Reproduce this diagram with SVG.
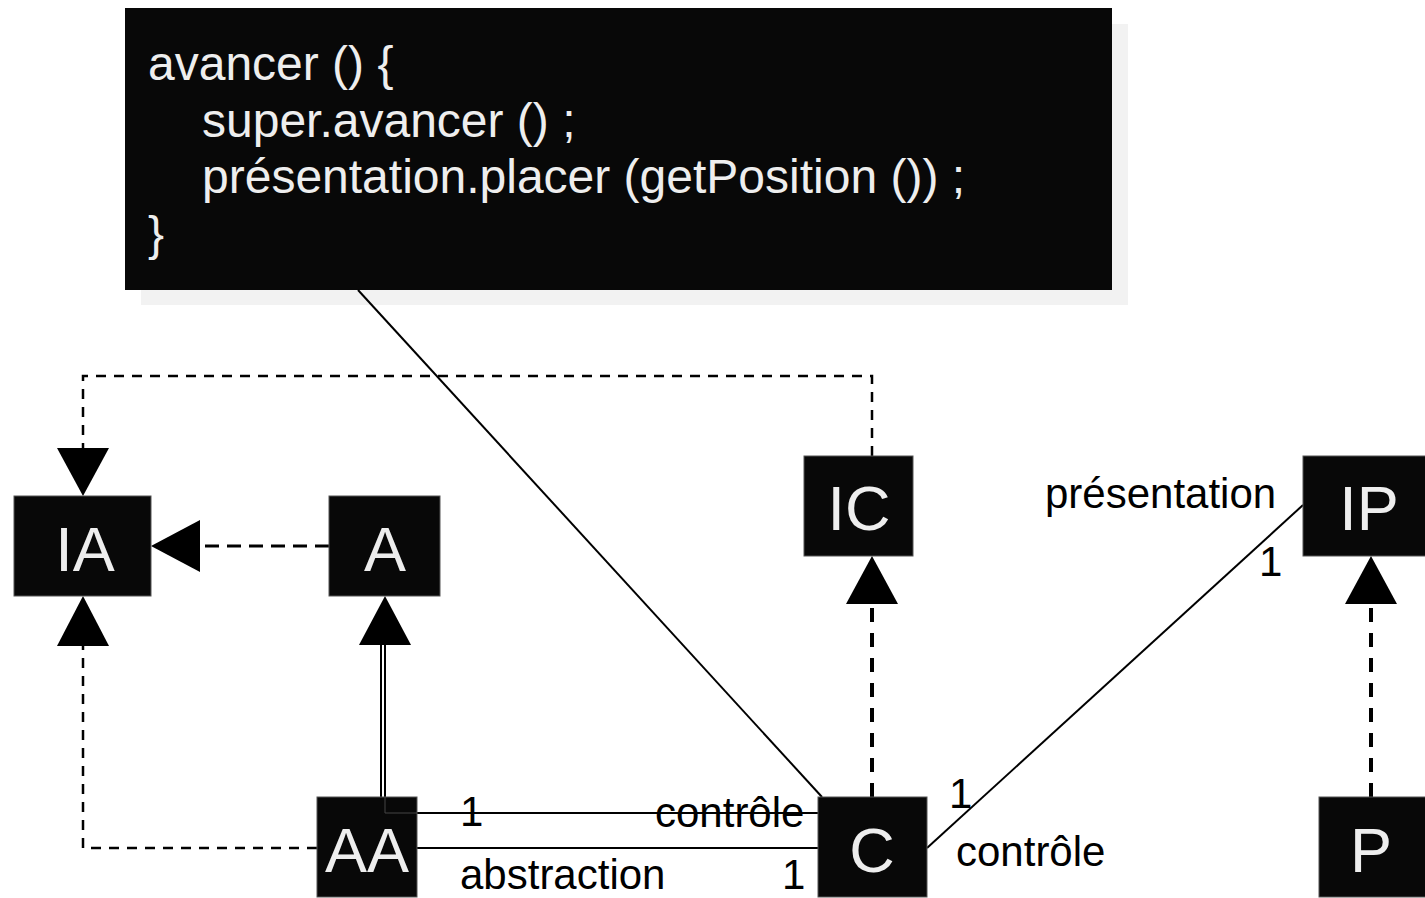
<svg xmlns="http://www.w3.org/2000/svg" width="1425" height="898" viewBox="0 0 1425 898">
<defs>
<style>
.node{fill:#080808;stroke:#555;stroke-width:1}
.nlabel{font-family:"Liberation Sans",Arial,sans-serif;font-size:63px;fill:#eeeeee;text-anchor:middle}
.lbl{font-family:"Liberation Sans",Arial,sans-serif;font-size:42px;fill:#000}
.code{font-family:"Liberation Sans",Arial,sans-serif;font-size:48px;fill:#eeeeee}
.solid{fill:none;stroke:#000;stroke-width:2}
.dthin{fill:none;stroke:#000;stroke-width:2.5;stroke-dasharray:10 8}
.dmid{fill:none;stroke:#000;stroke-width:3;stroke-dasharray:14 8}
.dthick{fill:none;stroke:#000;stroke-width:4;stroke-dasharray:14 11}
.head{fill:#000}
</style>
</defs>
<g id="note">
<rect x="141" y="24" width="987" height="281" fill="#f2f2f2"/>
<rect x="125" y="8" width="987" height="282" fill="#080808"/>
<text class="code"><tspan x="148" y="80">avancer () {</tspan><tspan x="202" y="137">super.avancer () ;</tspan><tspan x="202" y="193">présentation.placer (getPosition ()) ;</tspan><tspan x="148" y="250">}</tspan></text>
</g>
<g id="connectors">
<path class="dthin" d="M872,456 V376 H83 V448"/>
<polygon class="head" points="83,496 57,448 109,448"/>
<path class="dmid" d="M329,546 H200"/>
<polygon class="head" points="151,546 200,520 200,572"/>
<path class="dthin" d="M317,848 H83 V646"/>
<polygon class="head" points="83,596 57,646 109,646"/>
<path class="solid" d="M381,797 V645"/>
<path class="solid" d="M385,645 V813 H818"/>
<polygon class="head" points="385,596 359,645 411,645"/>
<path class="solid" stroke-width="2.5" d="M417,848 H818"/>
<path class="solid" stroke-width="1.6" d="M358,290 L822,797"/>
<path class="dthick" d="M872,797 V604"/>
<polygon class="head" points="872,556 846,604 898,604"/>
<path class="solid" d="M927,848 L1303,505"/>
<path class="dthick" d="M1371,797 V604"/>
<polygon class="head" points="1371,556 1345,604 1397,604"/>
</g>
<g id="IA"><rect class="node" x="14" y="496" width="137" height="100"/><text class="nlabel" x="85" y="571">IA</text></g>
<g id="A"><rect class="node" x="329" y="496" width="111" height="100"/><text class="nlabel" x="385" y="571">A</text></g>
<g id="IC"><rect class="node" x="804" y="456" width="109" height="100"/><text class="nlabel" x="859" y="530">IC</text></g>
<g id="IP"><rect class="node" x="1303" y="456" width="125" height="100"/><text class="nlabel" x="1369" y="530">IP</text></g>
<g id="AA"><rect class="node" x="317" y="797" width="100" height="100"/><text class="nlabel" x="367" y="872">AA</text></g>
<g id="C"><rect class="node" x="818" y="797" width="109" height="100"/><text class="nlabel" x="872" y="872">C</text></g>
<g id="P"><rect class="node" x="1319" y="797" width="110" height="100"/><text class="nlabel" x="1371" y="872">P</text></g>
<g id="assoc-overlay">
<path d="M385,797 V813 H417" fill="none" stroke="#444" stroke-width="1"/>
</g>
<g id="labels">
<text class="lbl" x="460" y="826">1</text>
<text class="lbl" x="655" y="827">contrôle</text>
<text class="lbl" x="460" y="889">abstraction</text>
<text class="lbl" x="782" y="889">1</text>
<text class="lbl" x="949" y="808">1</text>
<text class="lbl" x="956" y="866">contrôle</text>
<text class="lbl" x="1045" y="508">présentation</text>
<text class="lbl" x="1259" y="576">1</text>
</g>
</svg>
